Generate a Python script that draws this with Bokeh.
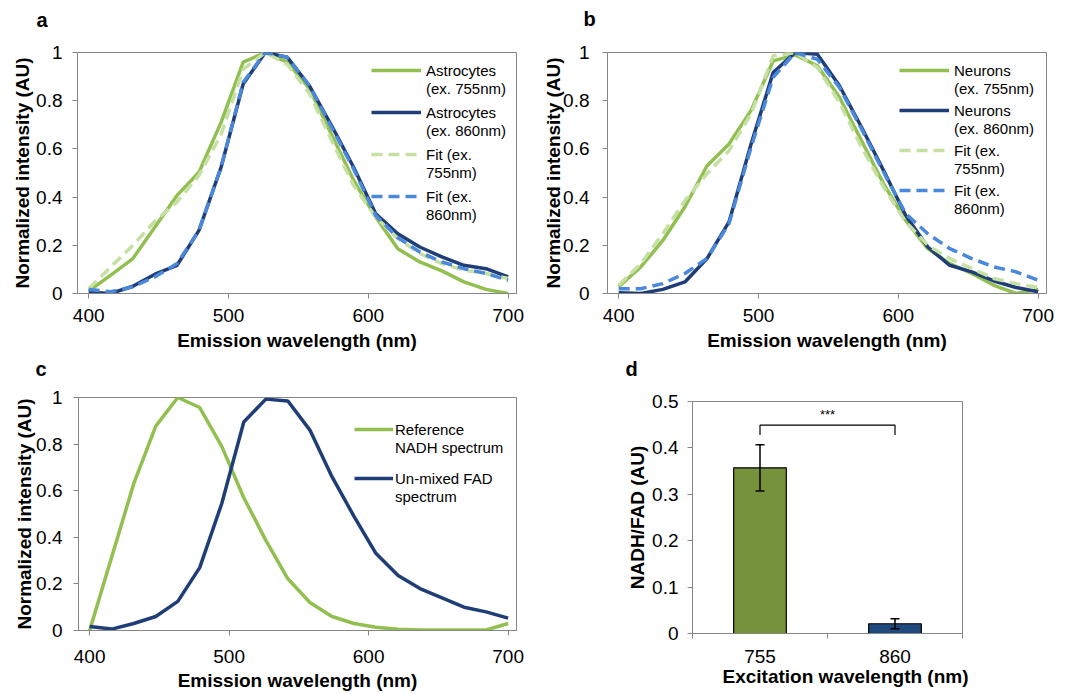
from bokeh.plotting import figure
from bokeh.layouts import column, row
from bokeh.models import (Range1d, FixedTicker, CustomJSTickFormatter, Legend, LegendItem,
                          Whisker, ColumnDataSource, TeeHead, Title)
from bokeh.embed import file_html
from bokeh.resources import INLINE

# ---------------- data ----------------
wavelength = [400.0, 415.8, 431.6, 447.4, 463.2, 478.9, 494.7, 510.5, 526.3, 542.1,
              557.9, 573.7, 589.5, 605.3, 621.1, 636.8, 652.6, 668.4, 684.2, 700.0]

astro_755 = [0.01, 0.076, 0.145, 0.276, 0.407, 0.503, 0.71, 0.96, 1.0, 0.96,
             0.85, 0.66, 0.47, 0.317, 0.186, 0.131, 0.094, 0.048, 0.017, 0.0]
astro_860 = [0.005, 0.0, 0.03, 0.08, 0.117, 0.262, 0.524, 0.869, 1.0, 0.98,
             0.862, 0.697, 0.524, 0.331, 0.248, 0.193, 0.152, 0.117, 0.103, 0.069]
astro_fit_755 = [0.02, 0.11, 0.2, 0.3, 0.38, 0.49, 0.66, 0.93, 1.0, 0.95,
                 0.83, 0.635, 0.448, 0.317, 0.228, 0.166, 0.124, 0.097, 0.083, 0.062]
astro_fit_860 = [0.017, 0.007, 0.028, 0.069, 0.124, 0.262, 0.524, 0.876, 1.0, 0.98,
                 0.862, 0.69, 0.517, 0.324, 0.232, 0.172, 0.131, 0.103, 0.083, 0.055]

neuron_755 = [0.028, 0.11, 0.22, 0.36, 0.53, 0.62, 0.76, 0.965, 0.99, 0.945,
              0.814, 0.634, 0.455, 0.303, 0.186, 0.124, 0.083, 0.034, 0.0, 0.017]
neuron_860 = [0.003, 0.0, 0.017, 0.048, 0.145, 0.297, 0.62, 0.917, 1.0, 0.993,
              0.862, 0.69, 0.51, 0.324, 0.193, 0.117, 0.09, 0.052, 0.025, 0.007]
neuron_fit_755 = [0.034, 0.124, 0.248, 0.386, 0.497, 0.593, 0.745, 0.986, 1.0, 0.938,
                  0.793, 0.607, 0.441, 0.297, 0.2, 0.145, 0.103, 0.062, 0.041, 0.025]
neuron_fit_860 = [0.02, 0.02, 0.041, 0.083, 0.145, 0.29, 0.607, 0.897, 1.0, 0.972,
                  0.855, 0.683, 0.503, 0.331, 0.248, 0.186, 0.145, 0.11, 0.09, 0.055]

nadh_reference = [0.0, 0.315, 0.63, 0.877, 1.0, 0.957, 0.79, 0.57, 0.387, 0.222,
                  0.12, 0.06, 0.03, 0.014, 0.005, 0.002, 0.002, 0.002, 0.002, 0.03]
fad_unmixed = [0.017, 0.006, 0.03, 0.06, 0.125, 0.27, 0.545, 0.895, 0.993, 0.985,
               0.86, 0.66, 0.49, 0.33, 0.236, 0.18, 0.14, 0.10, 0.08, 0.053]

excitation = ["755", "860"]
ratio = [0.357, 0.021]
ratio_err = [0.05, 0.011]
significance = "***"
bracket_y = 0.449
bracket_leg = 0.021

spectrum_ticks = [400, 500, 600, 700]
intensity_ticks = [0, 0.2, 0.4, 0.6, 0.8, 1]
ratio_ticks = [0, 0.1, 0.2, 0.3, 0.4, 0.5]

# ---------------- style ----------------
FONT = "Liberation Sans"
GREEN = "#92C050"
NAVY = "#1F3E77"
LIGHT_GREEN = "#C6E0A4"
BLUE = "#4A88DC"
OLIVE = "#76923C"
BAR_NAVY = "#1F497D"
GRAY = "#868686"

num_fmt = CustomJSTickFormatter(code="return String(Math.round(tick*10)/10)")


def style(p, xlabel, ylabel, y_tick_standoff, ylabel_standoff, x_tick_standoff, xlabel_standoff):
    p.outline_line_color = GRAY
    p.outline_line_width = 1
    p.xgrid.visible = False
    p.ygrid.visible = False
    for ax in (p.xaxis[0], p.yaxis[0]):
        ax.axis_line_color = GRAY
        ax.major_tick_line_color = GRAY
        ax.minor_tick_line_color = None
        ax.major_tick_in = 0
        ax.major_tick_out = 5
        ax.major_label_text_font = FONT
        ax.major_label_text_font_size = "19px"
        ax.major_label_text_color = "black"
        ax.axis_label_text_font = FONT
        ax.axis_label_text_font_size = "19px"
        ax.axis_label_text_font_style = "bold"
        ax.axis_label_text_color = "black"
    p.xaxis[0].axis_label = xlabel
    p.xaxis[0].major_label_standoff = x_tick_standoff
    p.xaxis[0].axis_label_standoff = xlabel_standoff
    p.yaxis[0].axis_label = ylabel
    p.yaxis[0].major_label_standoff = y_tick_standoff
    p.yaxis[0].axis_label_standoff = ylabel_standoff


def panel_letter(p, text, offset, gap):
    # blank spacer next to the frame, then the bold panel letter above it
    p.add_layout(Title(text=" ", text_font_size="1px", standoff=gap), "above")
    p.add_layout(Title(text=text, align="left", vertical_align="top", offset=offset,
                       standoff=0, text_font=FONT, text_font_size="20px",
                       text_font_style="bold", text_color="black"), "above")


def spectrum_fig(w, h, left, right, top, bottom):
    p = figure(width=w, height=h, output_backend="svg", toolbar_location=None, title=None,
               x_range=Range1d(392, 706), y_range=Range1d(0, 1),
               min_border_left=left, min_border_right=right,
               min_border_top=top, min_border_bottom=bottom)
    p.xaxis.ticker = FixedTicker(ticks=spectrum_ticks)
    p.yaxis.ticker = FixedTicker(ticks=intensity_ticks)
    p.yaxis.formatter = num_fmt
    return p


def add_legend(p, renderers, first_lines, second_lines, x, y_first, spacing,
               glyph_width=50, standoff=5):
    common = dict(border_line_color=None, background_fill_alpha=0, label_text_font=FONT,
                  label_text_font_size="15px", label_text_color="black",
                  glyph_width=glyph_width, glyph_height=18, label_height=18,
                  spacing=spacing, padding=0, margin=0, label_standoff=standoff)
    lg1 = Legend(items=[LegendItem(label=l, renderers=[r]) for l, r in zip(first_lines, renderers)],
                 location=(x, y_first), **common)
    blanks = [p.line([], [], line_alpha=0) for _ in second_lines]
    lg2 = Legend(items=[LegendItem(label=l, renderers=[r]) for l, r in zip(second_lines, blanks)],
                 location=(x, y_first - 18), **common)
    p.add_layout(lg1)
    p.add_layout(lg2)


LW = 3.5
DASH = "11 6"

# ---------------- panel a ----------------
pa = spectrum_fig(540, 355, 77, 24, 52, 62)
style(pa, "Emission wavelength (nm)", "Normalized intensity (AU)", 10, 0, 10, 5)
ra1 = pa.line(wavelength, astro_755, line_color=GREEN, line_width=LW)
ra2 = pa.line(wavelength, astro_860, line_color=NAVY, line_width=LW)
ra3 = pa.line(wavelength, astro_fit_755, line_color=LIGHT_GREEN, line_width=LW, line_dash=DASH)
ra4 = pa.line(wavelength, astro_fit_860, line_color=BLUE, line_width=LW, line_dash=DASH)
add_legend(pa, [ra1, ra2, ra3, ra4],
           ["Astrocytes", "Astrocytes", "Fit (ex.", "Fit (ex."],
           ["(ex. 755nm)", "(ex. 860nm)", "755nm)", "860nm)"],
           294, 88, 24)
panel_letter(pa, "a", -41, 17)

# ---------------- panel b ----------------
pb = spectrum_fig(539, 355, 66, 33, 52, 62)
style(pb, "Emission wavelength (nm)", "Normalized intensity (AU)", 13, -4, 10, 5)
rb1 = pb.line(wavelength, neuron_755, line_color=GREEN, line_width=LW)
rb2 = pb.line(wavelength, neuron_860, line_color=NAVY, line_width=LW)
rb3 = pb.line(wavelength, neuron_fit_755, line_color=LIGHT_GREEN, line_width=LW, line_dash=DASH)
rb4 = pb.line(wavelength, neuron_fit_860, line_color=BLUE, line_width=LW, line_dash=DASH)
add_legend(pb, [rb1, rb2, rb3, rb4],
           ["Neurons", "Neurons", "Fit (ex.", "Fit (ex."],
           ["(ex. 755nm)", "(ex. 860nm)", "755nm)", "860nm)"],
           292, 94, 22)
panel_letter(pb, "b", -24, 18)

# ---------------- panel c ----------------
pc = spectrum_fig(540, 339, 78, 24, 42, 64)
style(pc, "Emission wavelength (nm)", "Normalized intensity (AU)", 11, -2, 14, 4)
rc1 = pc.line(wavelength, nadh_reference, line_color=GREEN, line_width=LW)
rc2 = pc.line(wavelength, fad_unmixed, line_color=NAVY, line_width=LW)
add_legend(pc, [rc1, rc2], ["Reference", "Un-mixed FAD"], ["NADH spectrum", "spectrum"],
           276, 143, 31, glyph_width=39, standoff=2)
panel_letter(pc, "c", -43, 13)

# ---------------- panel d ----------------
bar_x = [i + 0.5 for i in range(len(excitation))]
src = ColumnDataSource(dict(
    x=bar_x, top=ratio, color=[OLIVE, BAR_NAVY],
    upper=[v + e for v, e in zip(ratio, ratio_err)],
    lower=[v - e for v, e in zip(ratio, ratio_err)],
))
pd_ = figure(width=539, height=339, output_backend="svg", toolbar_location=None, title=None,
             x_range=Range1d(0, len(excitation)), y_range=Range1d(0, 0.5),
             min_border_left=152, min_border_right=117, min_border_top=46, min_border_bottom=61)
style(pd_, "", "NADH/FAD (AU)", 9, 1, 11, 1)
pd_.xaxis.ticker = FixedTicker(ticks=bar_x, minor_ticks=list(range(len(excitation) + 1)))
pd_.xaxis.formatter = CustomJSTickFormatter(args=dict(labels=excitation),
                                            code="return labels[Math.floor(tick)]")
pd_.xaxis.major_tick_out = 0
pd_.xaxis.minor_tick_line_color = GRAY
pd_.xaxis.minor_tick_in = 0
pd_.xaxis.minor_tick_out = 5
pd_.yaxis.ticker = FixedTicker(ticks=ratio_ticks)
pd_.yaxis.formatter = num_fmt
pd_.vbar(x="x", top="top", width=0.39, source=src, fill_color="color",
         line_color="black", line_width=1.2)
wh = Whisker(source=src, base="x", upper="upper", lower="lower", line_color="black",
             line_width=1.5, level="overlay",
             upper_head=TeeHead(size=9, line_color="black", line_width=1.5),
             lower_head=TeeHead(size=9, line_color="black", line_width=1.5))
pd_.add_layout(wh)
pd_.line([bar_x[0], bar_x[0], bar_x[1], bar_x[1]],
         [bracket_y - bracket_leg, bracket_y, bracket_y, bracket_y - bracket_leg],
         line_color="black", line_width=1.2)
pd_.text(x=[sum(bar_x) / 2], y=[bracket_y + 0.022], text=[significance],
         text_font_size="13px", text_align="center", text_baseline="middle",
         text_color="black")
pd_.add_layout(Title(text="Excitation wavelength (nm)", align="right", offset=-6,
                     vertical_align="top", standoff=0, text_font=FONT, text_font_size="19px",
                     text_font_style="bold", text_color="black"), "below")
panel_letter(pd_, "d", -67, 17)

layout = column(row(column(pa), column(pb)), row(column(pc), column(pd_)))
open("out.html", "w").write(file_html(layout, INLINE))
